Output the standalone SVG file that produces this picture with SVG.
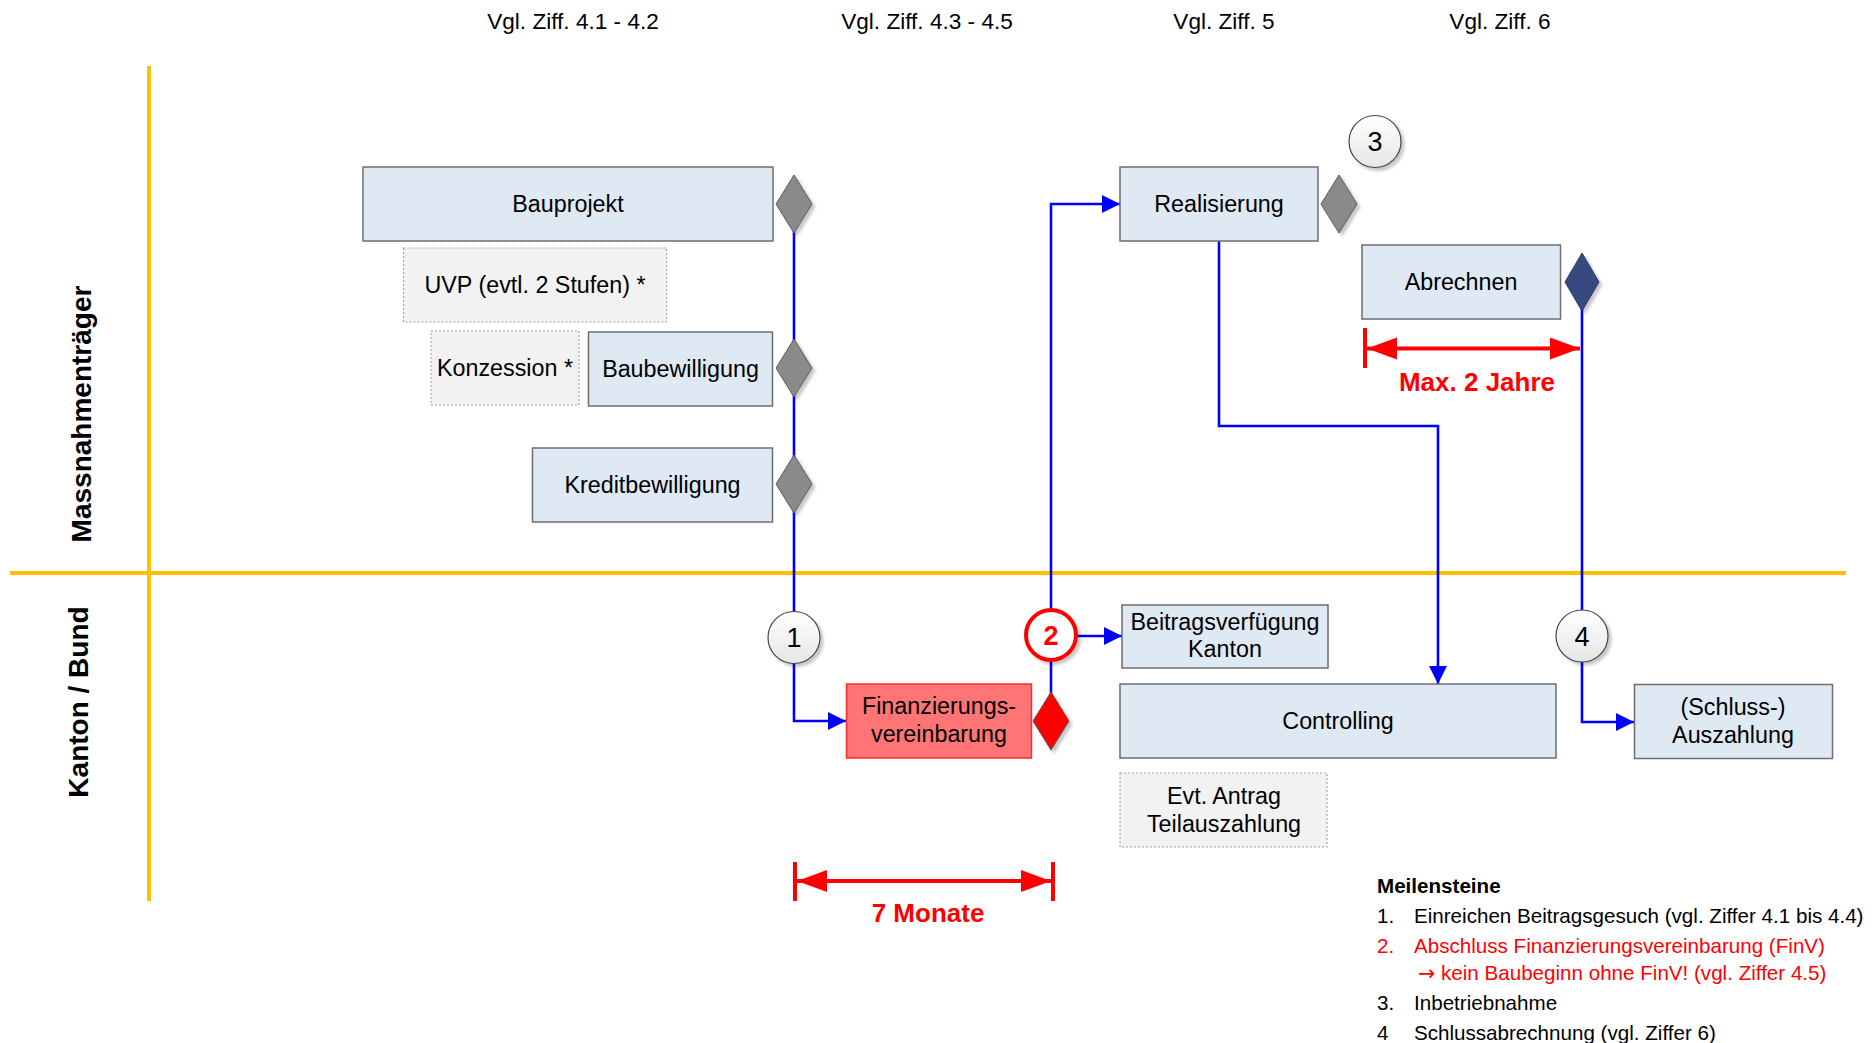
<svg xmlns="http://www.w3.org/2000/svg" width="1872" height="1043" viewBox="0 0 1872 1043">
<style>
text{font-family:"Liberation Sans",Arial,sans-serif;fill:#000}
.hdr{font-size:22.6px;text-anchor:middle}
.lane{font-size:28px;font-weight:bold;text-anchor:middle}
.bt{font-size:23.3px;text-anchor:middle}
.box{fill:#dfe9f3;stroke:#6e6e6e;stroke-width:1.5}
.opt{fill:#f2f2f2;stroke:#a6a6a6;stroke-width:1.2;stroke-dasharray:2 2}
.dia{fill:#8a8a8a;stroke:#5a5a5a;stroke-width:1}
.circ{fill:url(#cg);stroke:#444;stroke-width:1.2}
.num{font-size:27px;text-anchor:middle}
.conn{fill:none;stroke:#0000ff;stroke-width:2.6}
.lane-line{stroke:#ffc000;stroke-width:4;fill:none}
.red{fill:none;stroke:#ff0000;stroke-width:4}
.redt{font-size:26px;font-weight:bold;fill:#ff0000;text-anchor:middle}
.leg{font-size:20.6px}
.legr{font-size:20.6px;fill:#ff0000}
.arr{font-family:"DejaVu Sans",sans-serif}
</style>
<defs>
<linearGradient id="cg" x1="0" y1="0" x2="0" y2="1">
<stop offset="0" stop-color="#ffffff"/>
<stop offset="1" stop-color="#e6e6e6"/>
</linearGradient>
<filter id="sh" x="-30%" y="-30%" width="160%" height="160%">
<feDropShadow dx="3" dy="3" stdDeviation="1.5" flood-color="#000" flood-opacity="0.22"/>
</filter>
<marker id="ab" markerUnits="userSpaceOnUse" markerWidth="20" markerHeight="20" refX="18" refY="9" orient="auto">
<path d="M0,0 L18,9 L0,18 z" fill="#0000ff"/>
</marker>
<marker id="ar" markerUnits="userSpaceOnUse" markerWidth="32" markerHeight="24" refX="30" refY="11" orient="auto-start-reverse">
<path d="M0,0 L30,11 L0,22 z" fill="#ff0000"/>
</marker>
</defs>

<!-- header -->
<g id="headers">
<text class="hdr" x="573" y="29">Vgl. Ziff. 4.1 - 4.2</text>
<text class="hdr" x="927" y="29">Vgl. Ziff. 4.3 - 4.5</text>
<text class="hdr" x="1224" y="29">Vgl. Ziff. 5</text>
<text class="hdr" x="1500" y="29">Vgl. Ziff. 6</text>
</g>

<!-- lanes -->
<g id="lanes">
<line class="lane-line" x1="149" y1="66" x2="149" y2="901"/>
<line class="lane-line" x1="10" y1="573" x2="1846" y2="573"/>
<text class="lane" transform="translate(91,414) rotate(-90)">Massnahmenträger</text>
<text class="lane" transform="translate(88,702) rotate(-90)">Kanton / Bund</text>
</g>

<!-- connectors -->
<g id="connectors">
<line class="conn" x1="794" y1="230" x2="794" y2="612"/>
<polyline class="conn" points="794,663 794,721 846,721" marker-end="url(#ab)"/>
<line class="conn" x1="1051" y1="695" x2="1051" y2="661"/>
<polyline class="conn" points="1051,609 1051,204 1120,204" marker-end="url(#ab)"/>
<line class="conn" x1="1077" y1="636" x2="1122" y2="636" marker-end="url(#ab)"/>
<polyline class="conn" points="1219,241 1219,426 1438,426 1438,684" marker-end="url(#ab)"/>
<line class="conn" x1="1582" y1="308" x2="1582" y2="610"/>
<polyline class="conn" points="1582,662 1582,722 1634,722" marker-end="url(#ab)"/>
</g>

<!-- Massnahmentraeger lane nodes -->
<g id="bauprojekt">
<rect class="box" x="363" y="167" width="410" height="74"/>
<text class="bt" x="568" y="212">Bauprojekt</text>
</g>
<g id="bauprojekt-ms">
<polygon class="dia" filter="url(#sh)" points="794,175 812,204 794,233 776,204"/>
</g>
<g id="uvp">
<rect class="opt" x="403.5" y="248" width="263" height="74"/>
<text class="bt" x="535" y="293">UVP (evtl. 2 Stufen) *</text>
</g>
<g id="konzession">
<rect class="opt" x="431" y="331" width="148" height="74"/>
<text class="bt" x="505" y="376">Konzession *</text>
</g>
<g id="baubewilligung">
<rect class="box" x="588.5" y="332" width="184" height="74"/>
<text class="bt" x="680.5" y="377">Baubewilligung</text>
</g>
<g id="baubewilligung-ms">
<polygon class="dia" filter="url(#sh)" points="794,339 812,368 794,397 776,368"/>
</g>
<g id="kreditbewilligung">
<rect class="box" x="532.5" y="448" width="240" height="74"/>
<text class="bt" x="652.5" y="493">Kreditbewilligung</text>
</g>
<g id="kreditbewilligung-ms">
<polygon class="dia" filter="url(#sh)" points="794,455 812,484 794,513 776,484"/>
</g>
<g id="realisierung">
<rect class="box" x="1120" y="167" width="198" height="74"/>
<text class="bt" x="1219" y="212">Realisierung</text>
</g>
<g id="realisierung-ms">
<polygon class="dia" filter="url(#sh)" points="1339,175 1357,204 1339,233 1321,204"/>
</g>
<g id="ms3">
<circle class="circ" filter="url(#sh)" cx="1375" cy="141.5" r="26"/>
<text class="num" x="1375" y="151">3</text>
</g>
<g id="abrechnen">
<rect class="box" x="1362" y="245" width="198.5" height="74"/>
<text class="bt" x="1461" y="290">Abrechnen</text>
</g>
<g id="abrechnen-ms">
<polygon fill="#374a80" stroke="#2a3a66" stroke-width="1" filter="url(#sh)" points="1582,253 1599,282 1582,311 1565,282"/>
</g>
<g id="max2jahre">
<line class="red" x1="1365" y1="328" x2="1365" y2="368"/>
<line class="red" x1="1367" y1="348.5" x2="1580" y2="348.5" marker-start="url(#ar)" marker-end="url(#ar)"/>
<text class="redt" x="1477" y="391">Max. 2 Jahre</text>
</g>

<!-- Kanton / Bund lane nodes -->
<g id="ms1">
<circle class="circ" filter="url(#sh)" cx="794" cy="637.5" r="26"/>
<text class="num" x="794" y="647">1</text>
</g>
<g id="finv">
<rect x="846.5" y="684" width="185" height="74" fill="#ff7575" stroke="#ff2a2a" stroke-width="1.5"/>
<text class="bt" x="939" y="713.5">Finanzierungs-</text>
<text class="bt" x="939" y="741.5">vereinbarung</text>
</g>
<g id="finv-ms">
<polygon fill="#ff0000" stroke="#555" stroke-width="1" filter="url(#sh)" points="1051,692 1069,721 1051,750 1033,721"/>
</g>
<g id="ms2">
<circle fill="#ffffff" stroke="#ff0000" stroke-width="4" filter="url(#sh)" cx="1051" cy="635" r="25"/>
<text class="num" x="1051" y="645" style="font-weight:bold;fill:#ff0000">2</text>
</g>
<g id="beitragsverfuegung">
<rect class="box" x="1122" y="605" width="206" height="63"/>
<text class="bt" x="1225" y="629.5">Beitragsverfügung</text>
<text class="bt" x="1225" y="657">Kanton</text>
</g>
<g id="controlling">
<rect class="box" x="1120" y="684" width="436" height="74"/>
<text class="bt" x="1338" y="729">Controlling</text>
</g>
<g id="teilauszahlung">
<rect class="opt" x="1120" y="773" width="207" height="74"/>
<text class="bt" x="1224" y="803.5">Evt. Antrag</text>
<text class="bt" x="1224" y="832">Teilauszahlung</text>
</g>
<g id="ms4">
<circle class="circ" filter="url(#sh)" cx="1582" cy="636" r="26"/>
<text class="num" x="1582" y="645.5">4</text>
</g>
<g id="auszahlung">
<rect class="box" x="1634.5" y="684.5" width="198" height="74"/>
<text class="bt" x="1733" y="715">(Schluss-)</text>
<text class="bt" x="1733" y="743">Auszahlung</text>
</g>
<g id="sieben-monate">
<line class="red" x1="795" y1="862" x2="795" y2="901"/>
<line class="red" x1="1053" y1="862" x2="1053" y2="901"/>
<line class="red" x1="797" y1="881" x2="1051" y2="881" marker-start="url(#ar)" marker-end="url(#ar)"/>
<text class="redt" x="928" y="922">7 Monate</text>
</g>

<!-- legend -->
<g id="legend">
<text class="leg" x="1377" y="893" font-weight="bold">Meilensteine</text>
<text class="leg" x="1377" y="923">1.</text>
<text class="leg" x="1414" y="923">Einreichen Beitragsgesuch (vgl. Ziffer 4.1 bis 4.4)</text>
<text class="legr" x="1377" y="953">2.</text>
<text class="legr" x="1414" y="953">Abschluss Finanzierungsvereinbarung (FinV)</text>
<text class="legr" x="1418" y="980"><tspan class="arr">→</tspan> kein Baubeginn ohne FinV! (vgl. Ziffer 4.5)</text>
<text class="leg" x="1377" y="1010">3.</text>
<text class="leg" x="1414" y="1010">Inbetriebnahme</text>
<text class="leg" x="1377" y="1040">4</text>
<text class="leg" x="1414" y="1040">Schlussabrechnung (vgl. Ziffer 6)</text>
</g>
</svg>
